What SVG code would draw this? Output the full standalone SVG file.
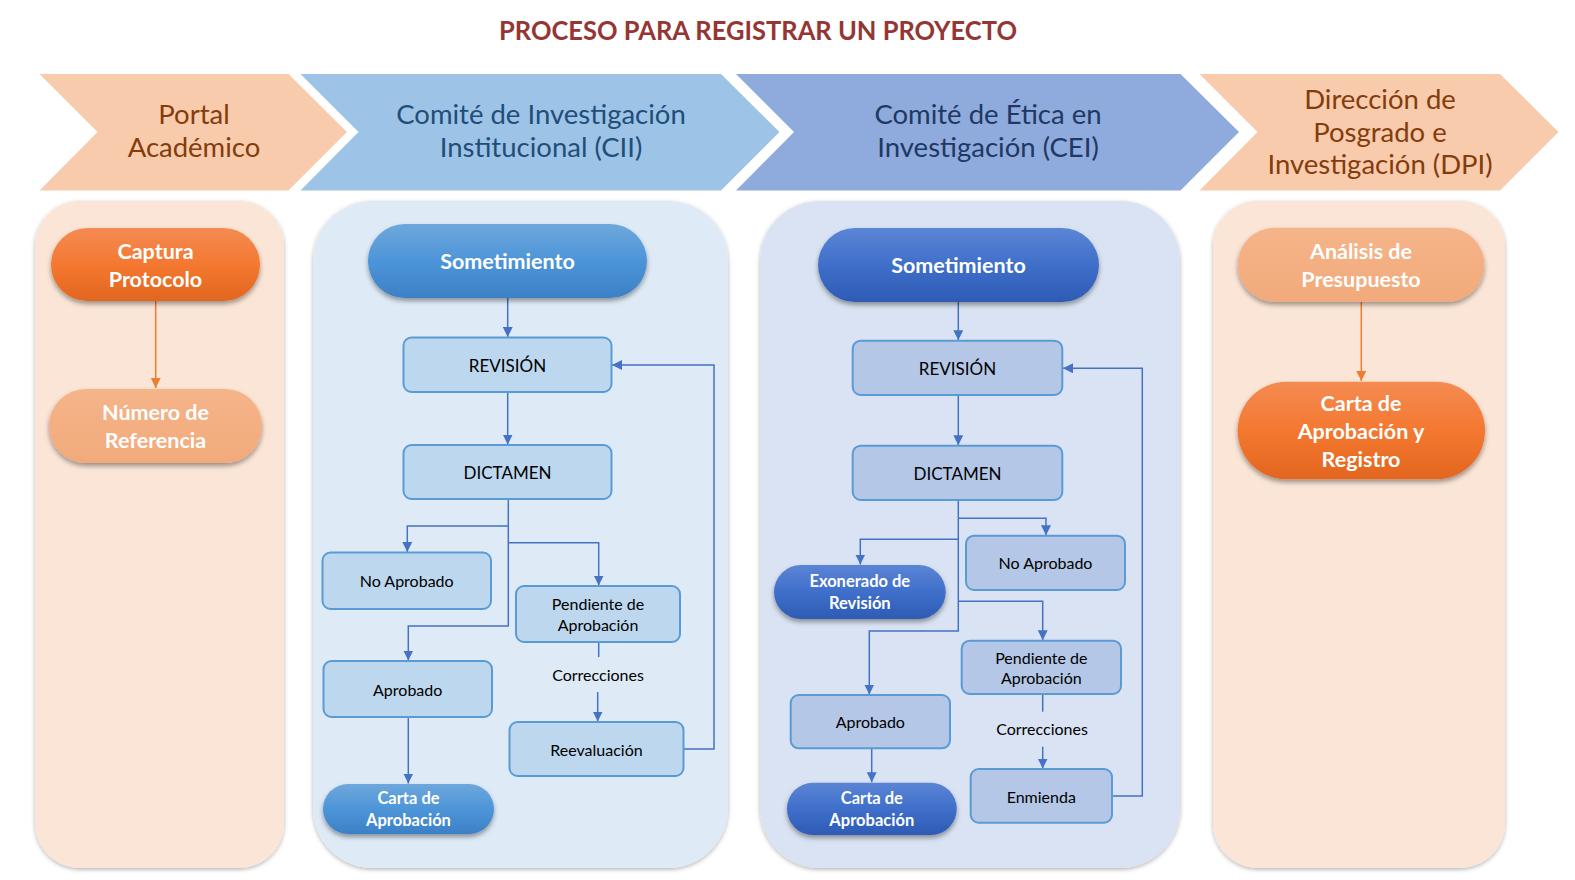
<svg xmlns="http://www.w3.org/2000/svg" width="1575" height="880" viewBox="0 0 1575 880">
  <style>
    text { font-family: Lato, "Open Sans", "Liberation Sans", sans-serif; text-anchor: middle; dominant-baseline: central; }
    .title { font-size: 27px; font-weight: 700; fill: #943634; }
    .hdr { font-size: 27.5px; }
    .hdr-o { fill: #843C0C; }
    .hdr-b { fill: #1F4E79; }
    .hdr-n { fill: #203864; }
    .pill-t { fill: #FFFFFF; font-weight: 700; font-size: 21.5px; }
    .pill-s { fill: #FFFFFF; font-weight: 700; font-size: 16.5px; }
    .box-l { font-size: 17px; fill: #000; }
    .box-t { font-size: 16px; fill: #000; }
    .box2 { fill: #BDD7EE; stroke: #5B9BD5; stroke-width: 2; }
    .box3 { fill: #B4C7E7; stroke: #5B9BD5; stroke-width: 2; }
    .conn { fill: none; stroke: #4472C4; stroke-width: 1.5; }
    .conn-o { fill: none; stroke: #ED7D31; stroke-width: 1.5; }
  </style>
  <defs>
    <linearGradient id="gOrange" x1="0" y1="0" x2="0" y2="1">
      <stop offset="0" stop-color="#F48B52"/>
      <stop offset="0.5" stop-color="#F47830"/>
      <stop offset="1" stop-color="#E2661F"/>
    </linearGradient>
    <linearGradient id="gPeach" x1="0" y1="0" x2="0" y2="1">
      <stop offset="0" stop-color="#F5B489"/>
      <stop offset="1" stop-color="#F2AA7B"/>
    </linearGradient>
    <linearGradient id="gBlue" x1="0" y1="0" x2="0" y2="1">
      <stop offset="0" stop-color="#6EA7DC"/>
      <stop offset="0.5" stop-color="#4D95D8"/>
      <stop offset="1" stop-color="#3C80C6"/>
    </linearGradient>
    <linearGradient id="gNavy" x1="0" y1="0" x2="0" y2="1">
      <stop offset="0" stop-color="#5B85D5"/>
      <stop offset="0.5" stop-color="#3F6FCA"/>
      <stop offset="1" stop-color="#2D5BB4"/>
    </linearGradient>
    <filter id="shPill" x="-10%" y="-20%" width="120%" height="150%">
      <feDropShadow dx="0" dy="3" stdDeviation="2.5" flood-color="#000" flood-opacity="0.38"/>
    </filter>
    <filter id="shPanel" x="-5%" y="-5%" width="110%" height="110%">
      <feDropShadow dx="0" dy="1.5" stdDeviation="2" flood-color="#000" flood-opacity="0.3"/>
    </filter>
    <marker id="arB" markerUnits="userSpaceOnUse" markerWidth="10" markerHeight="10" refX="10" refY="5" orient="auto">
      <path d="M0,0 L10,5 L0,10 z" fill="#4472C4"/>
    </marker>
    <marker id="arO" markerUnits="userSpaceOnUse" markerWidth="10" markerHeight="10" refX="10" refY="5" orient="auto">
      <path d="M0,0 L10,5 L0,10 z" fill="#ED7D31"/>
    </marker>
  </defs>

  <rect width="1575" height="880" fill="#FFFFFF"/>

  <text class="title" x="758" y="29" textLength="518" lengthAdjust="spacingAndGlyphs">PROCESO PARA REGISTRAR UN PROYECTO</text>

  <!-- stage headers (chevrons) -->
  <g id="hdr-portal">
    <polygon points="39.5,74 288.5,74 347,132 288.5,190.5 39.5,190.5 97.5,132" fill="#F8CBAD"/>
    <text class="hdr hdr-o" x="194" y="113.5">Portal</text>
    <text class="hdr hdr-o" x="194" y="146.5">Académico</text>
  </g>
  <g id="hdr-cii">
    <polygon points="300.5,74 721,74 779.5,132 721,190.5 300.5,190.5 358.5,132" fill="#9DC3E6"/>
    <text class="hdr hdr-b" x="541" y="113.5">Comité de Investigación</text>
    <text class="hdr hdr-b" x="541" y="146.5">Institucional (CII)</text>
  </g>
  <g id="hdr-cei">
    <polygon points="736,74 1180.5,74 1239,132 1180.5,190.5 736,190.5 794,132" fill="#8FAADC"/>
    <text class="hdr hdr-n" x="988" y="113.5">Comité de Ética en</text>
    <text class="hdr hdr-n" x="988" y="146.5">Investigación (CEI)</text>
  </g>
  <g id="hdr-dpi">
    <polygon points="1199.5,74 1500,74 1558.5,132 1500,190.5 1199.5,190.5 1257.5,132" fill="#F8CBAD"/>
    <text class="hdr hdr-o" x="1380" y="98.5">Dirección de</text>
    <text class="hdr hdr-o" x="1380" y="131.5">Posgrado e</text>
    <text class="hdr hdr-o" x="1380" y="163.5">Investigación (DPI)</text>
  </g>

  <!-- swimlane panels -->
  <g id="lanes" filter="url(#shPanel)">
    <rect x="35" y="201" width="249" height="667" rx="45" fill="#FBE5D6"/>
    <rect x="313" y="201" width="415" height="667" rx="60" fill="#DEEBF7"/>
    <rect x="760" y="201" width="420" height="667" rx="60" fill="#DAE3F3"/>
    <rect x="1213" y="201" width="292" height="667" rx="45" fill="#FBE5D6"/>
  </g>

  <!-- connectors -->
  <g id="connectors">
    <path class="conn-o" d="M155.7,301 V388" marker-end="url(#arO)"/>
    <path class="conn-o" d="M1361.3,301.7 V381" marker-end="url(#arO)"/>

    <path class="conn" d="M507.7,298 V337" marker-end="url(#arB)"/>
    <path class="conn" d="M507.7,392 V444.5" marker-end="url(#arB)"/>
    <path class="conn" d="M508.3,499 V626 H408.3 V660.5" marker-end="url(#arB)"/>
    <path class="conn" d="M508.3,526 H407.3 V552" marker-end="url(#arB)"/>
    <path class="conn" d="M508.3,542.7 H598.7 V585.5" marker-end="url(#arB)"/>
    <path class="conn" d="M598.7,642 V657"/>
    <path class="conn" d="M597.7,692 V721.5" marker-end="url(#arB)"/>
    <path class="conn" d="M408.3,717 V783.5" marker-end="url(#arB)"/>
    <path class="conn" d="M683.5,749 H714 V365 H612" marker-end="url(#arB)"/>

    <path class="conn" d="M958.3,302 V340.2" marker-end="url(#arB)"/>
    <path class="conn" d="M958.3,395 V445.2" marker-end="url(#arB)"/>
    <path class="conn" d="M958.3,500 V631 H869.3 V694.5" marker-end="url(#arB)"/>
    <path class="conn" d="M958.3,518.3 H1046 V535.2" marker-end="url(#arB)"/>
    <path class="conn" d="M958.3,539.3 H860.3 V564.5" marker-end="url(#arB)"/>
    <path class="conn" d="M958.3,601.3 H1042.7 V640.2" marker-end="url(#arB)"/>
    <path class="conn" d="M1042.7,694 V711.7"/>
    <path class="conn" d="M1042.7,746.7 V768.5" marker-end="url(#arB)"/>
    <path class="conn" d="M871.7,748.3 V782.2" marker-end="url(#arB)"/>
    <path class="conn" d="M1112,796 H1142.3 V368.3 H1063" marker-end="url(#arB)"/>
  </g>

  <!-- Portal Académico -->
  <g id="captura-protocolo">
    <rect x="51" y="228" width="209" height="73" rx="36.5" fill="url(#gOrange)" filter="url(#shPill)"/>
    <text class="pill-t" x="155.5" y="251">Captura</text>
    <text class="pill-t" x="155.5" y="279">Protocolo</text>
  </g>
  <g id="numero-referencia">
    <rect x="49" y="389" width="213" height="74" rx="37" fill="url(#gPeach)" filter="url(#shPill)"/>
    <text class="pill-t" x="155.5" y="412">Número de</text>
    <text class="pill-t" x="155.5" y="440">Referencia</text>
  </g>

  <!-- CII -->
  <g id="cii-sometimiento">
    <rect x="368" y="224" width="279" height="74" rx="37" fill="url(#gBlue)" filter="url(#shPill)"/>
    <text class="pill-t" x="507.5" y="261">Sometimiento</text>
  </g>
  <g id="cii-revision">
    <rect class="box2" x="403.5" y="337.5" width="208" height="54.5" rx="8"/>
    <text class="box-l" x="507.5" y="365">REVISIÓN</text>
  </g>
  <g id="cii-dictamen">
    <rect class="box2" x="403.5" y="445" width="208" height="54" rx="8"/>
    <text class="box-l" x="507.5" y="472">DICTAMEN</text>
  </g>
  <g id="cii-no-aprobado">
    <rect class="box2" x="322.5" y="552.5" width="168.5" height="56.5" rx="8"/>
    <text class="box-t" x="406.7" y="580">No Aprobado</text>
  </g>
  <g id="cii-pendiente">
    <rect class="box2" x="516" y="586" width="164" height="56" rx="8"/>
    <text class="box-t" x="598" y="603">Pendiente de</text>
    <text class="box-t" x="598" y="624">Aprobación</text>
  </g>
  <g id="cii-correcciones">
    <text class="box-t" x="598" y="674.5">Correcciones</text>
  </g>
  <g id="cii-aprobado">
    <rect class="box2" x="323.5" y="661" width="168.5" height="56" rx="8"/>
    <text class="box-t" x="407.7" y="689">Aprobado</text>
  </g>
  <g id="cii-reevaluacion">
    <rect class="box2" x="509.5" y="722" width="174" height="54" rx="8"/>
    <text class="box-t" x="596.5" y="749">Reevaluación</text>
  </g>
  <g id="cii-carta">
    <rect x="323" y="784" width="171" height="50" rx="25" fill="url(#gBlue)" filter="url(#shPill)"/>
    <text class="pill-s" x="408.5" y="797.5">Carta de</text>
    <text class="pill-s" x="408.5" y="819.5">Aprobación</text>
  </g>

  <!-- CEI -->
  <g id="cei-sometimiento">
    <rect x="818" y="228" width="281" height="74" rx="37" fill="url(#gNavy)" filter="url(#shPill)"/>
    <text class="pill-t" x="958.5" y="265">Sometimiento</text>
  </g>
  <g id="cei-revision">
    <rect class="box3" x="852.7" y="340.7" width="209.6" height="54.3" rx="8"/>
    <text class="box-l" x="957.5" y="368">REVISIÓN</text>
  </g>
  <g id="cei-dictamen">
    <rect class="box3" x="852.7" y="445.7" width="209.6" height="54.3" rx="8"/>
    <text class="box-l" x="957.5" y="473">DICTAMEN</text>
  </g>
  <g id="cei-no-aprobado">
    <rect class="box3" x="966" y="535.7" width="159" height="54.3" rx="8"/>
    <text class="box-t" x="1045.5" y="562">No Aprobado</text>
  </g>
  <g id="cei-exonerado">
    <rect x="774" y="565" width="171.7" height="54" rx="27" fill="url(#gNavy)" filter="url(#shPill)"/>
    <text class="pill-s" x="859.8" y="581">Exonerado de</text>
    <text class="pill-s" x="859.8" y="603">Revisión</text>
  </g>
  <g id="cei-pendiente">
    <rect class="box3" x="961.7" y="640.7" width="159.3" height="53.3" rx="8"/>
    <text class="box-t" x="1041.3" y="657.5">Pendiente de</text>
    <text class="box-t" x="1041.3" y="677">Aprobación</text>
  </g>
  <g id="cei-correcciones">
    <text class="box-t" x="1042" y="728.7">Correcciones</text>
  </g>
  <g id="cei-aprobado">
    <rect class="box3" x="790.7" y="695" width="159.3" height="53.3" rx="8"/>
    <text class="box-t" x="870.3" y="721.5">Aprobado</text>
  </g>
  <g id="cei-enmienda">
    <rect class="box3" x="970.7" y="769" width="141.3" height="53.7" rx="8"/>
    <text class="box-t" x="1041.3" y="796">Enmienda</text>
  </g>
  <g id="cei-carta">
    <rect x="787" y="782.7" width="169.7" height="52.3" rx="26" fill="url(#gNavy)" filter="url(#shPill)"/>
    <text class="pill-s" x="871.8" y="797.5">Carta de</text>
    <text class="pill-s" x="871.8" y="819.5">Aprobación</text>
  </g>

  <!-- DPI -->
  <g id="dpi-analisis">
    <rect x="1237.7" y="227.7" width="246.6" height="74" rx="37" fill="url(#gPeach)" filter="url(#shPill)"/>
    <text class="pill-t" x="1361" y="251">Análisis de</text>
    <text class="pill-t" x="1361" y="279">Presupuesto</text>
  </g>
  <g id="dpi-carta-registro">
    <rect x="1237.7" y="381.7" width="247.3" height="97.6" rx="48.8" fill="url(#gOrange)" filter="url(#shPill)"/>
    <text class="pill-t" x="1361" y="403">Carta de</text>
    <text class="pill-t" x="1361" y="431">Aprobación y</text>
    <text class="pill-t" x="1361" y="459">Registro</text>
  </g>
</svg>
